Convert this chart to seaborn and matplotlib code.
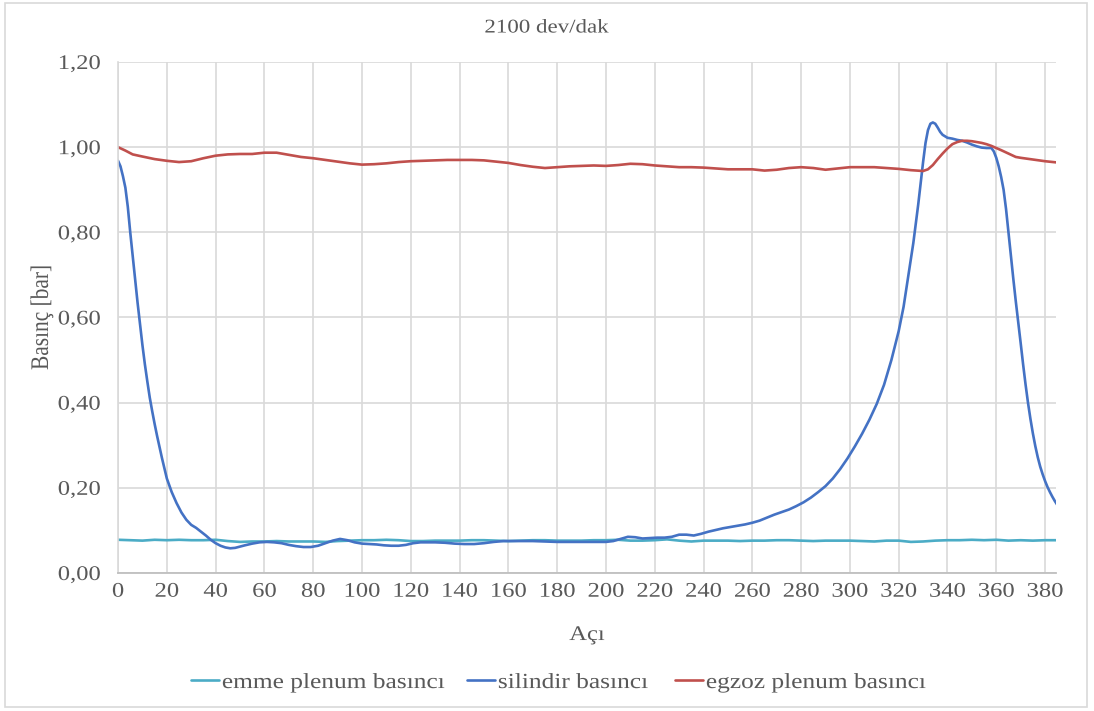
import matplotlib
matplotlib.use("Agg")
import matplotlib.pyplot as plt
from matplotlib.ticker import FuncFormatter, MultipleLocator
from matplotlib.patches import Rectangle
from matplotlib.patheffects import AbstractPathEffect
from matplotlib.transforms import Affine2D
import seaborn as sns
import pandas as pd

# Crank angle [deg] and pressure [bar] for each measured signal
silindir_aci = [0, 1, 2, 3, 4, 5, 6, 7, 8, 9, 10, 11, 12, 13, 14, 15, 16, 18, 20, 22, 24,
                26, 28, 30, 32, 34, 36, 38, 40, 42, 44, 46, 48, 50, 52, 55, 58, 61, 64,
                67, 70, 73, 76, 79, 82, 85, 88, 91, 94, 97, 100, 103, 106, 109, 112, 115,
                118, 121, 124, 127, 130, 134, 138, 142, 146, 150, 154, 158, 162, 166,
                170, 175, 180, 185, 190, 195, 200, 203, 206, 209, 212, 215, 218, 221,
                224, 227, 230, 233, 236, 239, 242, 245, 248, 251, 254, 257, 260, 263,
                266, 269, 272, 275, 278, 281, 284, 287, 290, 293, 296, 299, 302, 305,
                308, 311, 314, 317, 320, 322, 324, 326, 328, 330, 331, 332, 333, 334,
                335, 336, 337, 338, 340, 342, 344, 346, 348, 350, 352, 354, 356, 358,
                359, 360, 361, 362, 363, 364, 365, 366, 367, 368, 369, 370, 371, 372,
                373, 374, 375, 376, 377, 378, 379, 380, 381, 382, 383, 384, 385]
silindir_basinci = [0.968, 0.955, 0.932, 0.905, 0.860, 0.800, 0.745, 0.690, 0.635, 0.585,
                    0.535, 0.490, 0.450, 0.412, 0.380, 0.350, 0.322, 0.270, 0.222, 0.190,
                    0.164, 0.142, 0.125, 0.113, 0.106, 0.097, 0.088, 0.078, 0.070, 0.064,
                    0.060, 0.058, 0.059, 0.062, 0.065, 0.069, 0.072, 0.073, 0.072, 0.070,
                    0.066, 0.063, 0.061, 0.061, 0.064, 0.070, 0.076, 0.080, 0.077, 0.072,
                    0.069, 0.068, 0.067, 0.065, 0.064, 0.064, 0.066, 0.070, 0.072, 0.072,
                    0.072, 0.071, 0.069, 0.068, 0.068, 0.070, 0.073, 0.075, 0.075, 0.075,
                    0.075, 0.074, 0.073, 0.073, 0.073, 0.073, 0.073, 0.075, 0.080, 0.085,
                    0.084, 0.081, 0.082, 0.083, 0.083, 0.085, 0.090, 0.090, 0.088, 0.092,
                    0.097, 0.101, 0.105, 0.108, 0.111, 0.114, 0.118, 0.123, 0.130, 0.137,
                    0.143, 0.149, 0.157, 0.166, 0.177, 0.190, 0.204, 0.222, 0.244, 0.269,
                    0.297, 0.327, 0.360, 0.397, 0.442, 0.500, 0.568, 0.625, 0.700, 0.775,
                    0.865, 0.965, 1.010, 1.040, 1.055, 1.058, 1.055, 1.046, 1.036, 1.029,
                    1.022, 1.020, 1.017, 1.015, 1.011, 1.006, 1.002, 0.999, 0.998, 0.998,
                    0.990, 0.975, 0.955, 0.930, 0.900, 0.855, 0.800, 0.745, 0.690, 0.638,
                    0.590, 0.540, 0.490, 0.443, 0.400, 0.362, 0.328, 0.298, 0.272, 0.250,
                    0.232, 0.216, 0.202, 0.190, 0.179, 0.169, 0.160]

egzoz_aci = [0, 3, 6, 10, 15, 20, 25, 30, 35, 40, 45, 50, 55, 60, 65, 70, 75, 80, 85, 90,
             95, 100, 105, 110, 115, 120, 125, 130, 135, 140, 145, 150, 155, 160, 165,
             170, 175, 180, 185, 190, 195, 200, 205, 210, 215, 220, 225, 230, 235, 240,
             245, 250, 255, 260, 265, 270, 275, 280, 285, 290, 295, 300, 305, 310, 315,
             320, 325, 330, 332, 334, 336, 338, 340, 342, 344, 346, 348, 350, 352, 354,
             356, 358, 360, 362, 365, 368, 370, 375, 380, 385]
egzoz_basinci = [1.000, 0.992, 0.983, 0.978, 0.972, 0.968, 0.965, 0.967, 0.974, 0.980,
                 0.983, 0.984, 0.984, 0.987, 0.987, 0.982, 0.977, 0.974, 0.970, 0.966,
                 0.962, 0.959, 0.960, 0.962, 0.965, 0.967, 0.968, 0.969, 0.970, 0.970,
                 0.970, 0.969, 0.966, 0.963, 0.958, 0.954, 0.951, 0.953, 0.955, 0.956,
                 0.957, 0.956, 0.958, 0.961, 0.960, 0.957, 0.955, 0.953, 0.953, 0.952,
                 0.950, 0.948, 0.948, 0.948, 0.945, 0.947, 0.951, 0.953, 0.951, 0.947,
                 0.950, 0.953, 0.953, 0.953, 0.951, 0.949, 0.946, 0.944, 0.948, 0.958,
                 0.972, 0.985, 0.997, 1.007, 1.012, 1.015, 1.015, 1.014, 1.012, 1.010,
                 1.007, 1.003, 0.998, 0.993, 0.985, 0.977, 0.975, 0.971, 0.967, 0.964]

emme_aci = list(range(0, 386, 5))
emme_basinci = [0.078, 0.077, 0.076, 0.078, 0.077, 0.078, 0.077, 0.077, 0.078, 0.075,
                0.073, 0.074, 0.074, 0.075, 0.074, 0.074, 0.074, 0.073, 0.075, 0.076,
                0.077, 0.077, 0.078, 0.077, 0.075, 0.075, 0.076, 0.076, 0.076, 0.077,
                0.077, 0.076, 0.075, 0.076, 0.077, 0.077, 0.076, 0.076, 0.076, 0.077,
                0.077, 0.078, 0.076, 0.076, 0.077, 0.079, 0.076, 0.074, 0.076, 0.076,
                0.076, 0.075, 0.076, 0.076, 0.077, 0.077, 0.076, 0.075, 0.076, 0.076,
                0.076, 0.075, 0.074, 0.076, 0.076, 0.073, 0.074, 0.076, 0.077, 0.077,
                0.078, 0.077, 0.078, 0.076, 0.077, 0.076, 0.077, 0.077]

seri_adlari = ["emme plenum basıncı", "silindir basıncı", "egzoz plenum basıncı"]
seri_renkleri = ["#4BACC6", "#4472C4", "#C0504D"]
seriler = [(emme_aci, emme_basinci), (silindir_aci, silindir_basinci),
           (egzoz_aci, egzoz_basinci)]


class Genislet(AbstractPathEffect):
    """Draw text glyphs widened horizontally about a chosen edge."""

    def __init__(self, sx=1.18, anchor="center"):
        super().__init__()
        self.sx = sx
        self.anchor = anchor

    def draw_path(self, renderer, gc, tpath, affine, rgbFace=None):
        ext = tpath.get_extents(affine)
        if self.anchor == "left":
            cx = ext.x0
        elif self.anchor == "right":
            cx = ext.x1
        else:
            cx = 0.5 * (ext.x0 + ext.x1)
        stretch = Affine2D().translate(-cx, 0).scale(self.sx, 1).translate(cx, 0)
        renderer.draw_path(gc, tpath, affine + stretch, rgbFace)


sns.set_theme(style="white")
plt.rcParams["font.family"] = ["Liberation Serif", "DejaVu Serif"]
text_color = "#595959"
grid_color = "#D9D9D9"

fig = plt.figure(figsize=(10.94, 7.11), dpi=100)
ax = fig.add_axes([0.1079, 0.1941, 0.8574, 0.7187])

for ad, renk, (aci, basinc) in zip(seri_adlari, seri_renkleri, seriler):
    df = pd.DataFrame({"Açı": aci, "Basınç": basinc})
    sns.lineplot(data=df, x="Açı", y="Basınç", ax=ax, color=renk,
                 linewidth=1.9, label=ad, legend=False)

ax.set_xlim(0, 384.5)
ax.set_ylim(0, 1.2)
ax.xaxis.set_major_locator(MultipleLocator(20))
ax.yaxis.set_major_locator(MultipleLocator(0.2))
ax.yaxis.set_major_formatter(FuncFormatter(lambda v, p: f"{v:.2f}".replace(".", ",")))
ax.grid(True, color=grid_color, linewidth=1.2)
ax.set_axisbelow(True)
for s in ["top", "right"]:
    ax.spines[s].set_visible(False)
ax.spines["left"].set_color(grid_color)
ax.spines["left"].set_linewidth(1.2)
ax.spines["bottom"].set_color("#BFBFBF")
ax.spines["bottom"].set_linewidth(1.3)
ax.tick_params(axis="both", length=0, labelsize=15, colors=text_color)
ax.tick_params(axis="y", pad=12.5)
ax.tick_params(axis="x", pad=7)
for t in ax.get_xticklabels():
    t.set_path_effects([Genislet(anchor="center")])
for t in ax.get_yticklabels():
    t.set_path_effects([Genislet(anchor="right")])

ax.set_xlabel("Açı", fontsize=15, color=text_color, labelpad=17.5,
              path_effects=[Genislet(anchor="center")])
ax.set_ylabel("Basınç [bar]", fontsize=15.4, color=text_color,
              path_effects=[Genislet(anchor="center")])
ax.yaxis.set_label_coords(-0.0704, 0.5)
fig.text(0.5, 0.9606, "2100 dev/dak", ha="center", va="center",
         fontsize=14, color=text_color, path_effects=[Genislet(anchor="center")])

# One legend entry per series, laid out in a row under the axis
handles, labels = ax.get_legend_handles_labels()
legend_x = [191, 467, 675]
for h, lab, lx in zip(handles, labels, legend_x):
    leg = fig.legend([h], [lab], loc="center left",
                     bbox_to_anchor=(lx / 1094, 0.0394), frameon=False,
                     fontsize=15.5, handlelength=1.3, handletextpad=0.14,
                     borderpad=0, borderaxespad=0)
    for t in leg.get_texts():
        t.set_color(text_color)
        t.set_path_effects([Genislet(anchor="left")])

fig.patches.append(Rectangle((0.005, 0.006), 0.989, 0.99, transform=fig.transFigure,
                             fill=False, edgecolor=grid_color, linewidth=1.2))

fig.savefig("out.png", dpi=100)
